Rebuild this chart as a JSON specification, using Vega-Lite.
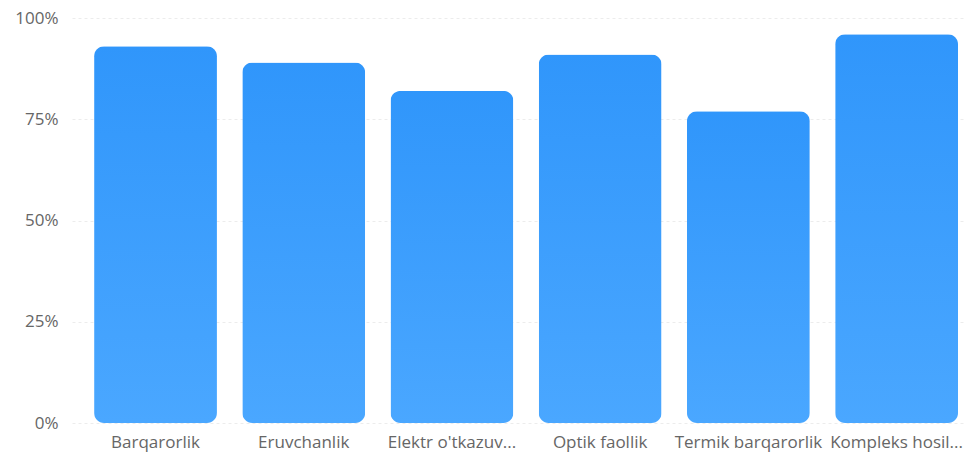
{
  "$schema": "https://vega.github.io/schema/vega-lite/v6.json",
  "autosize": {"type": "none"},
  "padding": {"left": 72, "top": 18, "right": 0, "bottom": 34},
  "width": 893,
  "height": 405,
  "background": "#ffffff",
  "data": {
    "values": [
      {"category": "Barqarorlik", "value": 0.93},
      {"category": "Eruvchanlik", "value": 0.89},
      {"category": "Elektr o'tkazuv...", "value": 0.82},
      {"category": "Optik faollik", "value": 0.91},
      {"category": "Termik barqarorlik", "value": 0.77},
      {"category": "Kompleks hosil...", "value": 0.96}
    ]
  },
  "config": {
    "view": {"stroke": null},
    "axis": {"labelFont": "Open Sans", "labelFontSize": 17, "labelColor": "#666666"}
  },
  "mark": {
    "type": "bar",
    "cornerRadius": 10,
    "fill": {
      "gradient": "linear",
      "x1": 0, "y1": 0, "x2": 0, "y2": 1,
      "stops": [
        {"offset": 0, "color": "#3096fb"},
        {"offset": 1, "color": "#4aa7ff"}
      ]
    }
  },
  "encoding": {
    "x": {
      "field": "category",
      "type": "nominal",
      "sort": null,
      "scale": {"paddingInner": 0.171, "paddingOuter": 0.098, "align": 0.76},
      "axis": {
        "title": null,
        "labelAngle": 0,
        "domain": false,
        "ticks": false,
        "labelPadding": 11,
        "labelLimit": 0,
        "labelOverlap": false
      }
    },
    "y": {
      "field": "value",
      "type": "quantitative",
      "scale": {"domain": [0, 1]},
      "axis": {
        "title": null,
        "values": [0, 0.25, 0.5, 0.75, 1],
        "format": ".0%",
        "domain": false,
        "ticks": false,
        "labelPadding": 14,
        "grid": true,
        "gridColor": "#ececec",
        "gridDash": [3, 3]
      }
    }
  }
}
